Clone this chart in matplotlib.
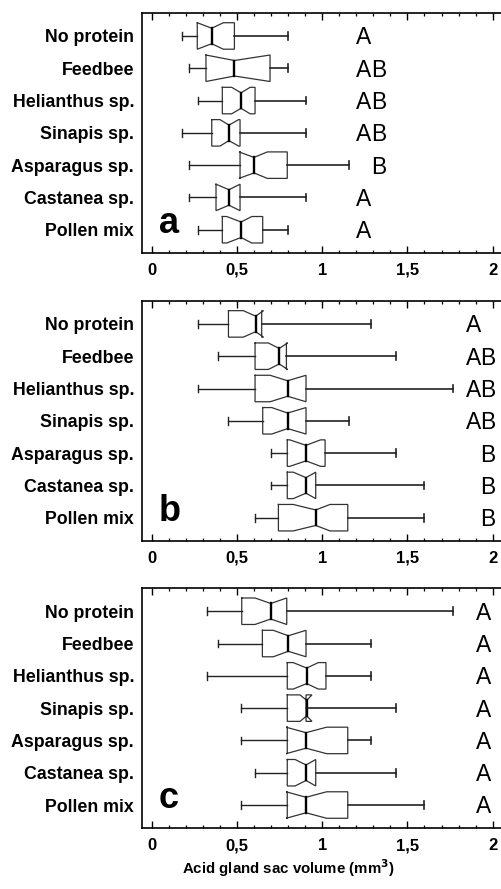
import numpy as np
import matplotlib
matplotlib.use("Agg")
import matplotlib.pyplot as plt

plt.rcParams['font.family'] = ['Liberation Sans', 'DejaVu Sans']

categories = ["No protein", "Feedbee", "Helianthus sp.", "Sinapis sp.",
              "Asparagus sp.", "Castanea sp.", "Pollen mix"]

# panel a
a_wlo = [0.18, 0.221, 0.27, 0.18, 0.221, 0.221, 0.27]
a_q1 = [0.267, 0.318, 0.414, 0.352, 0.518, 0.377, 0.414]
a_cilo = [0.267, 0.318, 0.469, 0.40, 0.512, 0.377, 0.44]
a_med = [0.352, 0.485, 0.524, 0.453, 0.60, 0.453, 0.524]
a_cihi = [0.42, 0.694, 0.577, 0.51, 0.678, 0.518, 0.587]
a_q3 = [0.485, 0.694, 0.606, 0.518, 0.795, 0.518, 0.651]
a_whi = [0.798, 0.798, 0.906, 0.906, 1.155, 0.906, 0.798]
a_groups = ["A", "AB", "AB", "AB", "B", "A", "A"]

# panel b
b_wlo = [0.27, 0.386, 0.27, 0.45, 0.699, 0.699, 0.607]
b_q1 = [0.45, 0.606, 0.606, 0.651, 0.795, 0.795, 0.743]
b_cilo = [0.537, 0.684, 0.694, 0.704, 0.81, 0.83, 0.83]
b_med = [0.61, 0.748, 0.797, 0.797, 0.905, 0.905, 0.962]
b_cihi = [0.655, 0.797, 0.905, 0.905, 0.99, 0.962, 1.046]
b_q3 = [0.645, 0.79, 0.905, 0.905, 1.017, 0.962, 1.15]
b_whi = [1.288, 1.434, 1.767, 1.155, 1.434, 1.595, 1.595]
b_groups = ["A", "AB", "AB", "AB", "B", "B", "B"]

# panel c
c_wlo = [0.323, 0.386, 0.323, 0.522, 0.522, 0.607, 0.522]
c_q1 = [0.528, 0.649, 0.795, 0.795, 0.795, 0.795, 0.795]
c_cilo = [0.606, 0.713, 0.83, 0.87, 0.788, 0.841, 0.788]
c_med = [0.698, 0.801, 0.909, 0.909, 0.905, 0.905, 0.905]
c_cihi = [0.792, 0.905, 0.977, 0.94, 1.026, 0.962, 1.026]
c_q3 = [0.792, 0.905, 1.022, 0.905, 1.15, 0.962, 1.15]
c_whi = [1.767, 1.288, 1.288, 1.434, 1.288, 1.434, 1.595]
c_groups = ["A", "A", "A", "A", "A", "A", "A"]

xticks = [0, 0.5, 1, 1.5, 2]
xticklabels = ["0", "0,5", "1", "1,5", "2"]


def draw_box(ax, p, wlo, q1, cilo, med, cihi, q3, whi):
    h = 0.41
    w = 0.24
    cap = 0.12
    xs = [q1, cilo, med, cihi, q3, q3, cihi, med, cilo, q1, q1]
    ys = [p - h, p - h, p - w, p - h, p - h, p + h, p + h, p + w, p + h, p + h, p - h]
    ax.plot(xs, ys, color="#333333", lw=0.9, solid_joinstyle="miter")
    ax.plot([med, med], [p - w, p + w], color="black", lw=1.7)
    ax.plot([wlo, q1], [p, p], color="#222222", lw=1.0)
    ax.plot([q3, whi], [p, p], color="#222222", lw=1.2)
    ax.plot([wlo, wlo], [p - cap, p + cap], color="#222222", lw=1.0)
    ax.plot([whi, whi], [p - cap, p + cap], color="#222222", lw=1.2)


panels = [
    ("a", 0.7154, a_wlo, a_q1, a_cilo, a_med, a_cihi, a_q3, a_whi, a_groups, 1.245),
    ("b", 0.3915, b_wlo, b_q1, b_cilo, b_med, b_cihi, b_q3, b_whi, b_groups, 1.886),
    ("c", 0.0683, c_wlo, c_q1, c_cilo, c_med, c_cihi, c_q3, c_whi, c_groups, 1.949),
]

fig = plt.figure(figsize=(5.01, 8.89), dpi=100)
left = 141.7 / 501

for name, y0, wlo, q1, cilo, med, cihi, q3, whi, groups, xcol in panels:
    ax = fig.add_axes([left, y0, 1.0 - left, 240.3 / 889])
    pos = np.arange(1, len(categories) + 1)
    for i, p in enumerate(pos):
        draw_box(ax, p, wlo[i], q1[i], cilo[i], med[i], cihi[i], q3[i], whi[i])
        g = groups[i]
        if "A" in g:
            ax.text(xcol, p + 0.06, "A", fontsize=16.5, ha="center", va="center")
        if "B" in g:
            ax.text(xcol + 0.087, p + 0.06, "B", fontsize=16.5, ha="center", va="center")
    ax.text(0.04, pos[-1] + 0.1, name, fontsize=26, fontweight="bold",
            ha="left", va="baseline")

    ax.set_xlim(-0.059, 2.049)
    ax.set_ylim(7.72, 0.28)
    ax.set_yticks(pos)
    ax.set_yticklabels(categories, fontsize=12.8, fontweight="bold")
    ax.tick_params(axis="y", length=0, pad=5.5)
    ax.set_xticks(xticks)
    ax.set_xticklabels(xticklabels, fontsize=12, fontweight="bold")
    ax.set_xticks(np.arange(0, 2.05, 0.1), minor=True)
    ax.tick_params(axis="x", which="major", direction="in", length=5,
                   width=1.0, top=True, pad=7)
    ax.tick_params(axis="x", which="minor", direction="in", length=2.5,
                   width=0.9, top=True)
    ax.spines["right"].set_visible(False)
    for s in ["left", "top", "bottom"]:
        ax.spines[s].set_linewidth(1.2)

fig.text(288 / 501, 1 - 868 / 889, "Acid gland sac volume (mm$^\\mathbf{3}$)",
         fontsize=10.8, fontweight="bold", ha="center", va="center")

fig.savefig("out.png", dpi=100)
